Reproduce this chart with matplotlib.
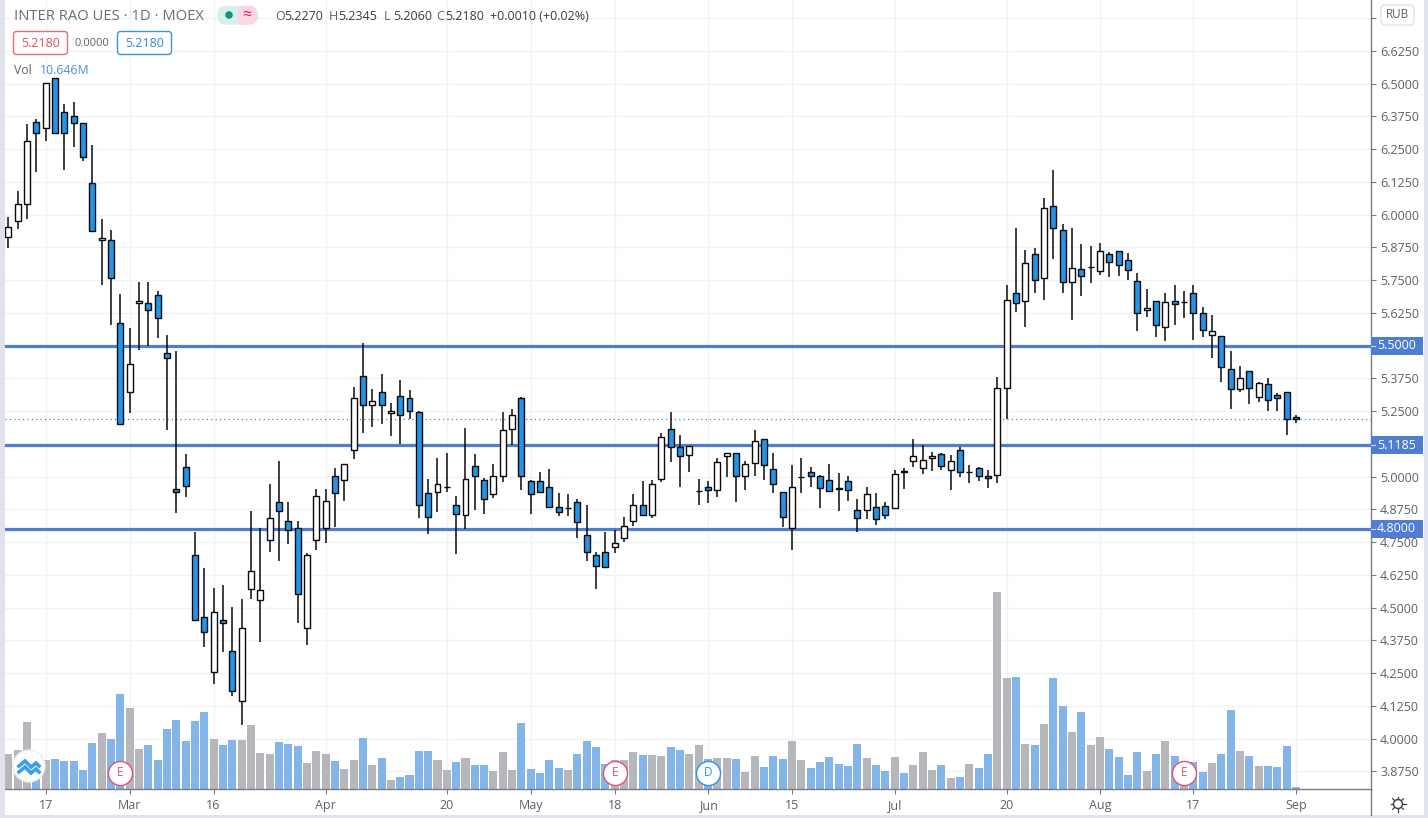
import numpy as np
import matplotlib
matplotlib.use('Agg')
import matplotlib.pyplot as plt
from matplotlib.patches import FancyBboxPatch, Circle, Rectangle

plt.rcParams['font.family'] = ['Open Sans', 'DejaVu Sans']

opens = [5.913,5.974,6.039,6.352,6.329,6.520,6.390,6.375,6.348,6.119,5.902,5.902,5.585,5.321,5.661,5.661,5.692,5.470,4.951,5.035,
4.699,4.463,4.253,4.451,4.333,4.142,4.569,4.527,4.756,4.901,4.829,4.802,4.421,4.756,4.802,5.001,4.985,5.100,5.382,5.272,
5.321,5.241,5.306,5.298,5.245,4.936,4.940,4.961,4.890,4.852,5.039,4.985,4.932,5.001,5.180,5.298,4.982,4.982,4.959,4.882,
4.879,4.901,4.776,4.699,4.711,4.730,4.764,4.829,4.890,4.852,4.989,5.180,5.111,5.081,4.943,4.959,4.947,5.077,5.089,5.001,
5.050,5.142,5.027,4.940,4.802,4.999,5.016,5.001,4.985,4.956,4.982,4.871,4.871,4.882,4.886,4.879,5.021,5.058,5.031,5.069,
5.085,5.024,5.100,5.018,5.031,5.001,5.005,5.337,5.699,5.669,5.848,5.757,6.031,5.940,5.741,5.791,5.798,5.783,5.848,5.860,
5.825,5.745,5.634,5.669,5.569,5.669,5.667,5.699,5.623,5.539,5.535,5.409,5.333,5.402,5.302,5.352,5.310,5.321,5.227]
highs = [5.990,6.090,6.345,6.365,6.502,6.520,6.422,6.429,6.348,6.264,5.982,5.940,5.697,5.566,5.741,5.741,5.707,5.539,5.478,5.085,
4.787,4.650,4.573,4.585,4.501,4.531,4.867,4.802,4.970,5.058,4.901,4.829,4.708,4.951,4.951,5.031,5.047,5.340,5.508,5.333,
5.390,5.279,5.367,5.329,5.249,4.989,5.069,5.089,4.924,5.184,5.085,4.993,5.047,5.245,5.256,5.302,4.985,5.016,5.027,4.936,
4.932,4.913,4.890,4.711,4.787,4.796,4.844,4.932,4.982,4.985,5.165,5.245,5.157,5.115,4.989,4.982,5.069,5.089,5.089,5.058,
5.176,5.144,5.089,4.940,5.043,5.069,5.035,5.005,5.047,5.012,5.001,4.913,4.959,4.936,4.901,5.024,5.031,5.142,5.119,5.094,
5.089,5.081,5.111,5.043,5.035,5.024,5.379,5.730,5.947,5.863,5.871,6.062,6.170,5.963,5.947,5.886,5.879,5.890,5.856,5.860,
5.852,5.776,5.715,5.669,5.699,5.730,5.707,5.730,5.646,5.615,5.535,5.478,5.421,5.402,5.360,5.375,5.318,5.321,5.2345]
lows = [5.872,5.946,5.984,6.163,6.282,6.306,6.171,6.259,6.205,5.936,5.732,5.579,5.198,5.243,5.482,5.499,5.530,5.179,4.862,4.923,
4.451,4.350,4.209,4.331,4.163,4.050,4.531,4.369,4.713,4.679,4.743,4.442,4.358,4.721,4.747,4.806,4.905,5.068,5.167,5.190,
5.202,5.156,5.123,5.221,4.843,4.779,4.866,4.940,4.705,4.801,4.873,4.858,4.917,4.980,5.119,4.950,4.858,4.936,4.882,4.850,
4.850,4.766,4.679,4.572,4.653,4.708,4.750,4.810,4.852,4.843,4.980,5.057,4.961,5.018,4.892,4.900,4.923,4.999,4.904,4.950,
5.003,4.988,4.938,4.808,4.721,4.938,4.961,4.881,4.940,4.869,4.908,4.789,4.839,4.816,4.839,4.875,4.953,5.037,5.011,5.022,
5.026,4.950,4.999,4.976,4.984,4.957,4.976,5.221,5.629,5.572,5.699,5.675,5.831,5.702,5.598,5.690,5.740,5.770,5.763,5.766,
5.751,5.556,5.610,5.534,5.518,5.579,5.606,5.522,5.534,5.453,5.362,5.259,5.324,5.278,5.285,5.251,5.251,5.160,5.206]
closes = [5.951,6.039,6.279,6.310,6.501,6.310,6.310,6.348,6.218,5.936,5.909,5.757,5.202,5.428,5.669,5.634,5.604,5.453,4.940,4.963,
4.451,4.405,4.482,4.440,4.180,4.421,4.638,4.566,4.840,4.867,4.795,4.550,4.699,4.924,4.905,4.936,5.047,5.298,5.272,5.287,
5.272,5.249,5.234,5.249,4.890,4.844,4.970,4.961,4.856,4.989,5.001,4.913,5.001,5.176,5.234,5.001,4.932,4.940,4.882,4.863,
4.879,4.825,4.711,4.657,4.653,4.745,4.810,4.890,4.852,4.970,5.150,5.111,5.077,5.115,4.943,4.947,5.054,5.089,5.001,5.047,
5.134,5.043,4.970,4.844,4.959,4.999,5.001,4.955,4.943,4.954,4.947,4.840,4.932,4.837,4.852,5.008,5.019,5.077,5.062,5.077,
5.039,5.058,5.016,5.018,5.001,4.993,5.337,5.673,5.661,5.814,5.749,6.024,5.947,5.741,5.795,5.764,5.798,5.860,5.818,5.806,
5.787,5.623,5.642,5.577,5.665,5.657,5.667,5.625,5.558,5.554,5.417,5.333,5.375,5.337,5.356,5.291,5.298,5.218,5.218]
volumes = [162,181,310,143,135,139,130,130,89,213,259,231,438,374,185,204,135,277,319,222,
314,356,231,204,227,227,296,167,162,218,208,199,121,176,162,130,93,135,236,112,
144,43,57,66,176,176,135,89,126,144,112,112,84,172,89,305,93,75,135,98,
89,162,222,195,116,135,135,172,158,158,153,195,181,162,204,138,144,144,139,80,
153,103,153,139,222,135,98,126,149,116,107,208,144,112,84,149,75,112,172,89,
112,52,57,116,98,162,908,512,517,208,204,300,512,383,264,356,204,241,185,149,
66,172,84,162,222,153,101,123,80,121,162,365,176,153,107,107,103,199,10.646]

price_ticks = [3.875,4.0,4.125,4.25,4.375,4.5,4.625,4.75,4.875,5.0,5.125,5.25,5.375,5.5,5.625,5.75,5.875,6.0,6.125,6.25,6.375,6.5,6.625,6.75]
date_idx = [4,13,22,34,47,56,65,75,84,95,107,117,127,138]
date_labels = ['17','Mar','16','Apr','20','May','18','Jun','15','Jul','20','Aug','17','Sep']
levels = [5.5,5.1185,4.8]
last_price = 5.218
events = [(12,'E'),(65,'E'),(75,'D'),(126,'E')]

BLUE = '#2196e8'
VOL_BLUE = '#84b5e8'
VOL_GREY = '#b6b7bc'
LEVEL = '#4f7dd1'
GRID = '#f0f2f6'
TEXT = '#5d606b'

W, H = 1428, 818
fig = plt.figure(figsize=(W/100, H/100), dpi=100, facecolor='w')
pos = [5/W, (H-789)/H, 1366/W, 789/H]
xlim = (-0.354, 146.05)
ylim = (3.8073, 6.8187)

# grid sits behind the volume bars, candles on top of them
bg = fig.add_axes(pos, zorder=0)
bg.set_xlim(xlim)
bg.set_ylim(ylim)
bg.set_xticks(date_idx)
bg.set_yticks(price_ticks)
bg.grid(color=GRID, linewidth=1)
bg.set_axisbelow(True)
bg.tick_params(length=0, labelleft=False, labelbottom=False)
for s in bg.spines.values():
	s.set_visible(False)

x = np.arange(len(opens))
o = np.array(opens)
c = np.array(closes)
up = c >= o

vol = fig.add_axes(pos, zorder=1)
vol.patch.set_alpha(0)
vol.set_xlim(xlim)
vol.set_ylim(0, 789*4.6)
vol.bar(x, volumes, width=0.86, color=[VOL_GREY if u else VOL_BLUE for u in up])
vol.axis('off')

ax = fig.add_axes(pos, zorder=2)
ax.patch.set_alpha(0)
ax.set_xlim(xlim)
ax.set_ylim(ylim)
for lv in levels:
	ax.axhline(lv, color=LEVEL, linewidth=2.3, zorder=1)
ax.axhline(last_price, color='#3f86b8', linewidth=0.9, linestyle=(0, (1, 2.5)), zorder=1)
ax.vlines(x, lows, highs, color='#0a0a0a', linewidth=1.1, zorder=3)
ax.bar(x, np.abs(c-o), bottom=np.minimum(o, c), width=0.64, color=['white' if u else BLUE for u in up],
	edgecolor='#0a0a0a', linewidth=1.0, zorder=4)

# 5.5000 and 5.1250 lie under the blue labels, 6.7500 under the currency badge
hidden = [5.5, 5.125, 6.75]
ax.yaxis.tick_right()
ax.set_yticks(price_ticks)
ax.set_yticklabels(['' if t in hidden else '%.4f' % t for t in price_ticks], fontsize=9, color=TEXT)
ax.set_xticks(date_idx)
ax.set_xticklabels(date_labels, fontsize=9, color=TEXT)
ax.tick_params(axis='y', length=3.5, width=0.8, color='#787b86', pad=3)
ax.tick_params(axis='x', length=3.5, width=0.8, color='#787b86', pad=3.5)
for s in ['top', 'left']:
	ax.spines[s].set_visible(False)
for s in ['right', 'bottom']:
	ax.spines[s].set_color('#787b86')
	ax.spines[s].set_linewidth(1.0)

# event markers sit on the time scale
for i, t in events:
	col = '#2196f3' if t == 'D' else '#e0526c'
	ax.scatter([i], [3.869], s=300, facecolor='white', edgecolor=col, linewidth=1, zorder=6, clip_on=False)
	ax.text(i, 3.869, t, color=col, fontsize=8.5, ha='center', va='center', zorder=7)

# everything around the chart, in pixels
ui = fig.add_axes([0, 0, 1, 1], zorder=5)
ui.patch.set_alpha(0)
ui.set_xlim(0, W)
ui.set_ylim(H, 0)
ui.axis('off')

for rect in [(0, 0, 4.5, H), (1423.5, 0, 4.5, H), (0, 815, W, 3)]:
	ui.add_patch(Rectangle(rect[:2], rect[2], rect[3], fc='#e0e3eb', ec='none'))
ui.plot([1371, 1371], [789, 815], color='#787b86', lw=1)

def box(x0, y0, w, h, fc, ec, r=3):
	ui.add_patch(FancyBboxPatch((x0, y0), w, h, boxstyle='round,pad=0,rounding_size=%g' % r, fc=fc, ec=ec, lw=1))

for lv in levels:
	yy = 345.5 + (5.5-lv)*262
	ui.add_patch(Rectangle((1370.5, yy-9), 52.5, 18, fc=LEVEL, ec='none', zorder=2))
	ui.plot([1371, 1375], [yy, yy], color='#c9d6f0', lw=0.8, zorder=3)
	ui.text(1396.5, yy, '%.4f' % lv, color='white', fontsize=9, ha='center', va='center', zorder=4)

box(1381, 5, 33, 20, 'white', '#e0e3eb', 4)
ui.text(1397.5, 14.5, 'RUB', color=TEXT, fontsize=8.5, ha='center', va='center')

ui.text(14, 16, 'INTER RAO UES · 1D · MOEX', color='#6a6d78', fontsize=10.6, va='center')
box(218, 6.5, 39, 17.5, '#d9efec', '#d9efec', 8)
box(236, 6.5, 21, 17.5, '#fbd7e2', '#fbd7e2', 8)
ui.add_patch(Rectangle((230, 6.5), 8, 17.5, fc='#d9efec', ec='none'))
ui.add_patch(Circle((229, 15), 3.8, fc='#089981', ec='none'))
ui.text(247, 15, '≈', color='#d81e5b', fontsize=11.5, ha='center', va='center')

ohlc = [(275, 'O', '5.2270'), (329, 'H', '5.2345'), (384, 'L', '5.2060'), (436, 'C', '5.2180')]
for px, k, v in ohlc:
	ui.text(px, 16, k, color=TEXT, fontsize=9, va='center')
	ui.text(px+9, 16, v, color='#3a3d46', fontsize=9, va='center')
ui.text(490, 16, '+0.0010 (+0.02%)', color='#3a3d46', fontsize=9, va='center')

box(13.5, 31.5, 54, 23, 'white', '#e0707a')
ui.text(40.5, 43.5, '5.2180', color='#e0525c', fontsize=9, ha='center', va='center')
ui.text(92, 43, '0.0000', color=TEXT, fontsize=8, ha='center', va='center')
box(117.5, 31.5, 54, 23, 'white', '#3f93d8')
ui.text(144.5, 43.5, '5.2180', color='#2f8bd8', fontsize=9, ha='center', va='center')
ui.text(14, 71, 'Vol', color=TEXT, fontsize=8.8, va='center')
ui.text(40, 71, '10.646M', color='#4a90d9', fontsize=8.8, va='center')

# logo badge
ui.add_patch(Circle((29, 766), 16, fc='white', ec='#f3e9ee', lw=1))
ui.plot([19, 25, 31, 36, 39], [766, 761, 767, 763, 766], color='#39a0ed', lw=2.6, solid_joinstyle='miter')
ui.plot([19, 25, 31, 36, 39], [772, 767, 773, 769, 772], color='#39a0ed', lw=2.6, solid_joinstyle='miter')

# settings icon
ui.add_patch(Circle((1398, 804), 4.5, fc='white', ec='#3a3d46', lw=1))
for a in np.deg2rad(np.arange(0, 360, 45)):
	ui.plot([1398+5*np.cos(a), 1398+7.5*np.cos(a)], [804+5*np.sin(a), 804+7.5*np.sin(a)], color='#3a3d46', lw=0.9)

fig.savefig('out.png', dpi=100)
